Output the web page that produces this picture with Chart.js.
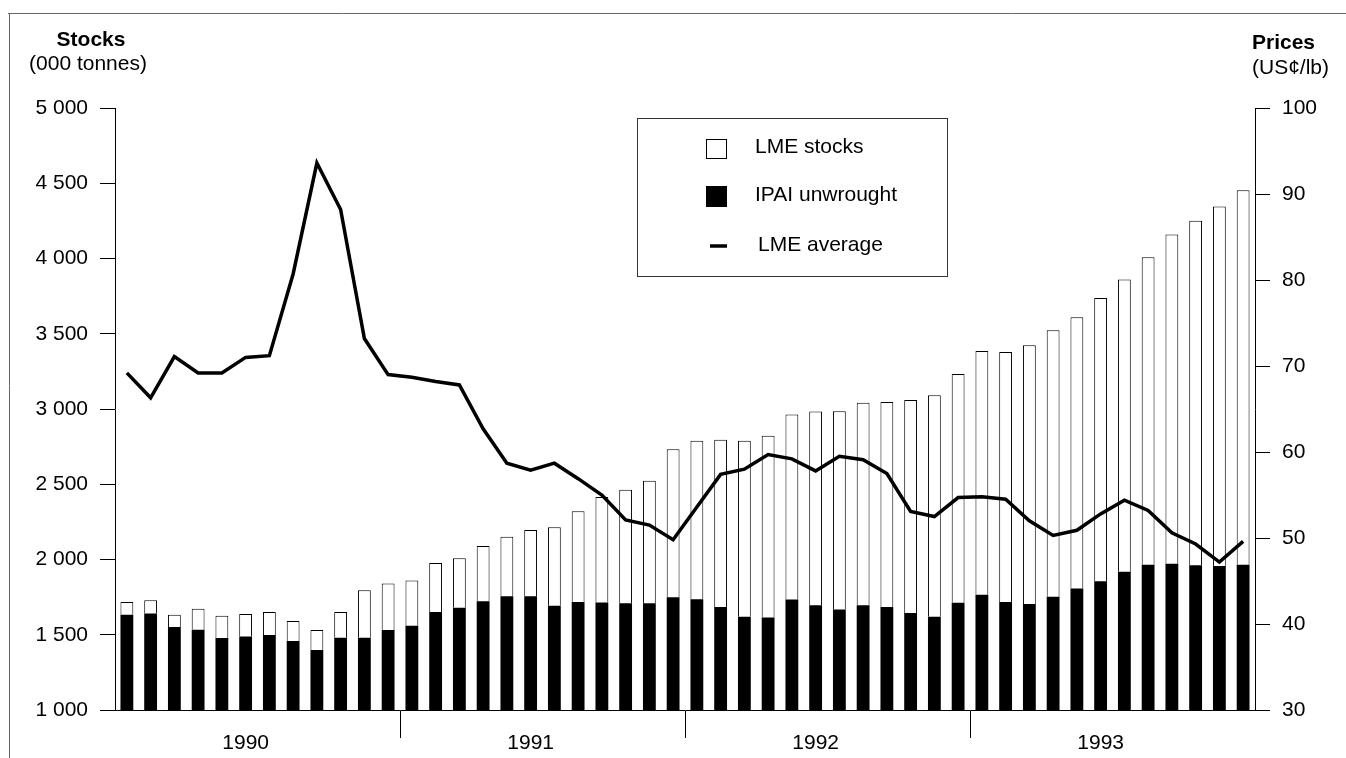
<!DOCTYPE html>
<html>
<head>
<meta charset="utf-8">
<script src="https://cdn.jsdelivr.net/npm/chart.js@4.4.1/dist/chart.umd.min.js"></script>
<style>
  html, body { margin: 0; padding: 0; background: #fff; }
  #wrap { position: relative; width: 1346px; height: 758px; }
</style>
</head>
<body>
<div id="wrap"><canvas id="stockChart"></canvas></div>
<script>
// chart data
const years = ["1990", "1991", "1992", "1993"];
const months = [];
years.forEach(y => {
  for (let m = 1; m <= 12; m++) months.push(y + "-" + m);
});

// IPAI unwrought stocks, 000 tonnes (black, bottom of stack)
const ipaiStocks = [
  1633, 1642, 1551, 1533, 1478, 1489, 1498, 1458, 1398, 1480, 1480, 1531,
  1560, 1651, 1680, 1722, 1755, 1755, 1692, 1718, 1714, 1710, 1710, 1749,
  1736, 1685, 1619, 1615, 1734, 1696, 1668, 1696, 1685, 1645, 1619, 1712,
  1765, 1718, 1704, 1752, 1807, 1856, 1919, 1965, 1971, 1962, 1956, 1965
];

// LME stocks, 000 tonnes (white, stacked on top)
const lmeStocks = [
  85, 87, 82, 140, 149, 149, 153, 133, 133, 171, 316, 309,
  300, 325, 329, 367, 396, 441, 523, 602, 701, 753, 813, 984,
  1053, 1110, 1170, 1207, 1229, 1287, 1317, 1346, 1362, 1415, 1472, 1521,
  1620, 1660, 1720, 1772, 1803, 1881, 1941, 2044, 2188, 2289, 2389, 2489
];

// LME average price, US cents/lb
const lmePrice = [
  69.2, 66.3, 71.1, 69.2, 69.2, 71.0, 71.2, 80.7, 93.6, 88.2, 73.2, 69.0,
  68.7, 68.2, 67.8, 62.7, 58.7, 57.9, 58.7, 56.9, 55.0, 52.1, 51.5, 49.8,
  53.6, 57.4, 58.0, 59.7, 59.2, 57.8, 59.5, 59.1, 57.5, 53.1, 52.5, 54.7,
  54.8, 54.5, 52.0, 50.3, 50.9, 52.8, 54.4, 53.2, 50.6, 49.3, 47.2, 49.6
];

const FONT = "'Liberation Sans', Arial, Helvetica, sans-serif";
Chart.defaults.font.family = FONT;
Chart.defaults.color = "#000";

const spaced = v => String(v).replace(/\B(?=(\d{3})+(?!\d))/g, " ");

//titles, frame and legend box drawn on the canvas
const decorations = {
  id: "decorations",
  afterDraw(chart) {
    const c = chart.ctx;
    c.save();
    // scanned page frame
    c.strokeStyle = "#666";
    c.lineWidth = 1;
    c.beginPath();
    c.moveTo(8, 13.5);
    c.lineTo(1346, 13.5);
    c.moveTo(9.5, 13);
    c.lineTo(9.5, 758);
    c.stroke();

    // axis titles
    c.fillStyle = "#000";
    c.textBaseline = "middle";
    c.textAlign = "center";
    c.font = "bold 21px " + FONT;
    c.fillText("Stocks", 91, 40);
    c.font = "21px " + FONT;
    c.fillText("(000 tonnes)", 88, 64);
    c.textAlign = "left";
    c.font = "bold 21px " + FONT;
    c.fillText("Prices", 1252, 43);
    c.font = "21px " + FONT;
    c.fillText("(US\u00a2/lb)", 1252, 68);

    // legend
    const ds = chart.data.datasets;
    c.strokeStyle = "#333";
    c.lineWidth = 1;
    c.strokeRect(637.5, 118.5, 310, 158);
    c.fillStyle = ds[2].backgroundColor;
    c.strokeStyle = ds[2].borderColor;
    c.fillRect(706, 139, 20, 19);
    c.strokeRect(706.5, 139.5, 20, 19);
    c.fillStyle = ds[1].backgroundColor;
    c.fillRect(706, 186, 21, 21);
    c.strokeStyle = ds[0].borderColor;
    c.lineWidth = ds[0].borderWidth;
    c.beginPath();
    c.moveTo(710, 246);
    c.lineTo(727, 246);
    c.stroke();
    c.fillStyle = "#000";
    c.font = "21px " + FONT;
    c.textAlign = "left";
    c.fillText(ds[2].label, 755, 147);
    c.fillText(ds[1].label, 755, 195);
    c.fillText(ds[0].label, 758, 245);
    c.restore();
  }
};

const ctx = document.getElementById("stockChart");
new Chart(ctx, {
  data: {
    labels: months,
    datasets: [
      {
        type: "line",
        label: "LME average",
        data: lmePrice,
        yAxisID: "y1",
        borderColor: "#000",
        borderWidth: 3.5,
        pointRadius: 0,
        tension: 0,
        fill: false,
      },
      {
        type: "bar",
        label: "IPAI unwrought",
        data: ipaiStocks,
        yAxisID: "y",
        backgroundColor: "#000",
        borderWidth: 0,
        barPercentage: 0.54,
        categoryPercentage: 1,
      },
      {
        type: "bar",
        label: "LME stocks",
        data: lmeStocks,
        yAxisID: "y",
        backgroundColor: "#fff",
        borderColor: "#000",
        borderWidth: 1,
        barPercentage: 0.54,
        categoryPercentage: 1,
      },
    ],
  },
  options: {
    responsive: true,
    maintainAspectRatio: false,
    animation: false,
    layout: { padding: { top: 108, left: 0, right: 0, bottom: 0 } },
    plugins: {
      legend: { display: false },
      tooltip: { enabled: false },
    },
    scales: {
      x: {
        stacked: true,
        offset: true,
        grid: {
          offset: true,
          drawOnChartArea: false,
          drawTicks: true,
          tickLength: 28,
          lineWidth: 1,
          color: c => (c.index > 0 && c.index < 48 && c.index % 12 === 0) ? "#000" : "rgba(0,0,0,0)",
        },
        border: { display: true, color: "#000", width: 1 },
        ticks: {
          autoSkip: false,
          maxRotation: 0,
          padding: -7,
          font: { size: 21 },
          callback: (v, i) => (i % 12 === 5 ? years[Math.floor(i / 12)] : ""),
        },
        afterFit: s => { s.height = 48; },
      },
      y: {
        position: "left",
        stacked: true,
        min: 1000,
        max: 5000,
        grid: { drawOnChartArea: false, tickLength: 15, color: "#000" },
        border: { display: true, color: "#000", width: 1 },
        ticks: { stepSize: 500, padding: 12, font: { size: 21 }, callback: v => spaced(v) },
        afterFit: s => { s.width = 115; },
      },
      y1: {
        position: "right",
        min: 30,
        max: 100,
        grid: { drawOnChartArea: false, tickLength: 15, color: "#000" },
        border: { display: true, color: "#000", width: 1 },
        ticks: { stepSize: 10, padding: 12, font: { size: 21 } },
        afterFit: s => { s.width = 91; },
      },
    },
  },
  plugins: [decorations],
});
</script>
</body>
</html>
